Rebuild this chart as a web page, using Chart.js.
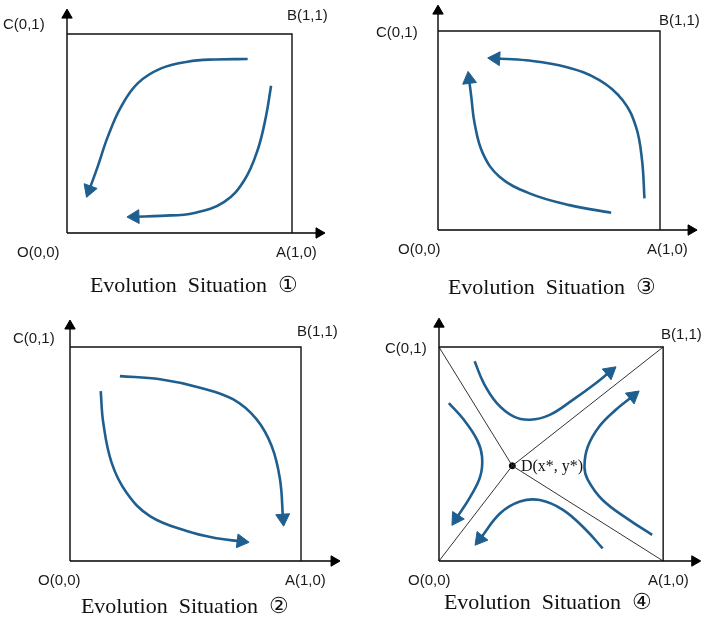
<!DOCTYPE html>
<html>
<head>
<meta charset="utf-8">
<script src="https://cdn.jsdelivr.net/npm/chart.js@4.4.1/dist/chart.umd.min.js"></script>
<style>
  body { margin: 0; background: #fff; width: 706px; height: 626px; position: relative; overflow: hidden; }
  canvas { position: absolute; }
  .lbl { position: absolute; font: 15px "Liberation Sans", Arial, sans-serif; color: #1a1a1a; line-height: 18px; white-space: nowrap; }
  .ttl { position: absolute; width: 260px; text-align: center; font: 22px "Liberation Serif", "Times New Roman", serif; color: #111; line-height: 26px; white-space: pre; }
  .dlbl { position: absolute; font: 16px "Liberation Serif", "Times New Roman", serif; color: #111; line-height: 18px; white-space: nowrap; }
</style>
</head>
<body>
<canvas id="s1" width="353" height="313" style="left:0;top:0"></canvas>
<canvas id="s3" width="353" height="313" style="left:353px;top:0"></canvas>
<canvas id="s2" width="353" height="313" style="left:0;top:313px"></canvas>
<canvas id="s4" width="353" height="313" style="left:353px;top:313px"></canvas>
<div id="labels"></div>
<script>
// trajectories, in unit-square coordinates (last point = arrow head)
var s1Upper = [[0.803,0.874],[0.655,0.872],[0.536,0.861],[0.418,0.827],[0.314,0.752],[0.240,0.634],[0.181,0.483],[0.136,0.332],[0.099,0.217]];
var s1Lower = [[0.907,0.740],[0.884,0.584],[0.847,0.416],[0.788,0.265],[0.699,0.156],[0.566,0.101],[0.418,0.086],[0.302,0.082]];

var s2Upper = [[0.216,0.864],[0.390,0.849],[0.563,0.810],[0.707,0.755],[0.808,0.662],[0.873,0.537],[0.909,0.382],[0.922,0.200]];
var s2Lower = [[0.133,0.794],[0.144,0.646],[0.180,0.460],[0.245,0.319],[0.346,0.210],[0.505,0.140],[0.635,0.106],[0.741,0.092]];

var s3Upper = [[0.930,0.159],[0.919,0.351],[0.892,0.518],[0.832,0.652],[0.727,0.753],[0.577,0.819],[0.397,0.853],[0.260,0.862]];
var s3Lower = [[0.780,0.087],[0.592,0.125],[0.412,0.184],[0.277,0.268],[0.202,0.385],[0.165,0.535],[0.150,0.669],[0.140,0.757]];

var s4Top = [[0.159,0.933],[0.199,0.832],[0.258,0.738],[0.332,0.676],[0.406,0.660],[0.494,0.683],[0.597,0.753],[0.701,0.832],[0.762,0.884]];
var s4Right = [[0.951,0.122],[0.848,0.192],[0.730,0.285],[0.664,0.379],[0.649,0.441],[0.664,0.535],[0.715,0.629],[0.789,0.707],[0.865,0.771]];
var s4Left = [[0.044,0.738],[0.111,0.660],[0.170,0.566],[0.192,0.488],[0.184,0.395],[0.140,0.301],[0.077,0.198]];
var s4Bottom = [[0.730,0.059],[0.656,0.145],[0.553,0.239],[0.450,0.285],[0.361,0.278],[0.273,0.223],[0.183,0.103]];

var saddle = [0.327, 0.445];

var cornerNames = ['C(0,1)', 'B(1,1)', 'O(0,0)', 'A(1,0)'];
var titles = ['Evolution  Situation  \u2460', 'Evolution  Situation  \u2461', 'Evolution  Situation  \u2462', 'Evolution  Situation  \u2463'];

var BLUE = '#1f5f8f';

// layout of each panel: canvas origin, box in page px, axis arrow ends (data units), label spots
var panels = [
  { id: 's1', org: [0, 0], box: [67, 34, 292, 233], axisEnd: [1.12, 1.095],
    curves: [s1Upper, s1Lower], title: 0, titlePos: [194, 285],
    corners: [[3, 24], [287, 15], [17, 252], [276, 252]] },
  { id: 's3', org: [353, 0], box: [438, 31, 660, 230], axisEnd: [1.14, 1.10],
    curves: [s3Upper, s3Lower], title: 2, titlePos: [552, 287],
    corners: [[376, 32], [659, 20], [398, 249], [647, 249]] },
  { id: 's2', org: [0, 313], box: [70, 347, 301, 561], axisEnd: [1.143, 1.098],
    curves: [s2Upper, s2Lower], title: 1, titlePos: [185, 606],
    corners: [[13, 338], [297, 331], [38, 580], [285, 580]] },
  { id: 's4', org: [353, 313], box: [439, 347, 665, 561], axisEnd: [1.141, 1.107],
    curves: [s4Top, s4Right, s4Left, s4Bottom], title: 3, titlePos: [548, 602],
    corners: [[385, 348], [661, 334], [408, 580], [648, 580]], saddle: true }
];

function pts(arr) {
  return arr.map(function(p) { return { x: p[0], y: p[1] }; });
}

function isLast(ctx) {
  return ctx.dataIndex === ctx.dataset.data.length - 1;
}

// turn the head triangle along the last segment, measured in pixels
function headRotation(ctx) {
  var d = ctx.dataset.data, i = ctx.dataIndex;
  if (i < 1) return 0;
  var sx = ctx.chart.scales.x, sy = ctx.chart.scales.y;
  var dx = sx.getPixelForValue(d[i].x) - sx.getPixelForValue(d[i - 1].x);
  var dy = sy.getPixelForValue(d[i].y) - sy.getPixelForValue(d[i - 1].y);
  return Math.atan2(dx, -dy) * 180 / Math.PI;
}

function arrowSet(data, color, width, head, tension) {
  return {
    data: pts(data),
    showLine: true,
    borderColor: color,
    borderWidth: width,
    tension: tension,
    clip: false,
    pointStyle: 'triangle',
    pointRadius: function(ctx) { return isLast(ctx) ? head : 0; },
    pointRotation: headRotation,
    pointBackgroundColor: color,
    pointBorderColor: color,
    pointBorderWidth: 1
  };
}

function plainSet(data, color, width) {
  return {
    data: pts(data),
    showLine: true,
    borderColor: color,
    borderWidth: width,
    tension: 0,
    clip: false,
    pointRadius: 0
  };
}

panels.forEach(function(p) {
  var el = document.getElementById(p.id);
  var bw = p.box[2] - p.box[0], bh = p.box[3] - p.box[1];
  // the scale runs a little past the arrow heads so they stay inside the chart area
  var xMax = p.axisEnd[0] + 0.01, yMax = p.axisEnd[1] + 0.01;
  var pad = {
    left: p.box[0] - p.org[0],
    top: p.box[1] - (yMax - 1) * bh - p.org[1],
    right: p.org[0] + el.width - (p.box[0] + xMax * bw),
    bottom: p.org[1] + el.height - p.box[3]
  };

  var datasets = [
    plainSet([[1, 0], [1, 1], [0, 1]], '#111', 1.4),
    arrowSet([[0, 0], [p.axisEnd[0], 0]], '#000', 1.4, 6, 0),
    arrowSet([[0, 0], [0, p.axisEnd[1]]], '#000', 1.4, 6, 0)
  ];
  if (p.saddle) {
    datasets.push(plainSet([[0, 0], saddle, [1, 1]], '#333', 1));
    datasets.push(plainSet([[0, 1], saddle, [1, 0]], '#333', 1));
    datasets.push({ data: pts([saddle]), showLine: false, pointRadius: 3, pointStyle: 'circle',
                    pointBackgroundColor: '#000', pointBorderColor: '#000', clip: false });
  }
  p.curves.forEach(function(c) {
    datasets.push(arrowSet(c, BLUE, 2.6, 8, 0.4));
  });

  new Chart(el, {
    type: 'scatter',
    data: { datasets: datasets },
    options: {
      responsive: false,
      animation: false,
      events: [],
      layout: { padding: pad },
      scales: {
        x: { type: 'linear', min: 0, max: xMax, display: false },
        y: { type: 'linear', min: 0, max: yMax, display: false }
      },
      plugins: { legend: { display: false }, tooltip: { enabled: false } }
    }
  });

  // text
  var host = document.getElementById('labels');
  p.corners.forEach(function(c, k) {
    var d = document.createElement('div');
    d.className = 'lbl';
    d.textContent = cornerNames[k];
    d.style.left = c[0] + 'px';
    d.style.top = (c[1] - 9) + 'px';
    host.appendChild(d);
  });
  var t = document.createElement('div');
  t.className = 'ttl';
  t.textContent = titles[p.title];
  t.style.left = (p.titlePos[0] - 130) + 'px';
  t.style.top = (p.titlePos[1] - 13) + 'px';
  host.appendChild(t);

  if (p.saddle) {
    var dl = document.createElement('div');
    dl.className = 'dlbl';
    dl.textContent = 'D(x*, y*)';
    dl.style.left = (p.box[0] + saddle[0] * bw + 8) + 'px';
    dl.style.top = (p.box[3] - saddle[1] * bh - 9) + 'px';
    host.appendChild(dl);
  }
});
</script>
</body>
</html>
